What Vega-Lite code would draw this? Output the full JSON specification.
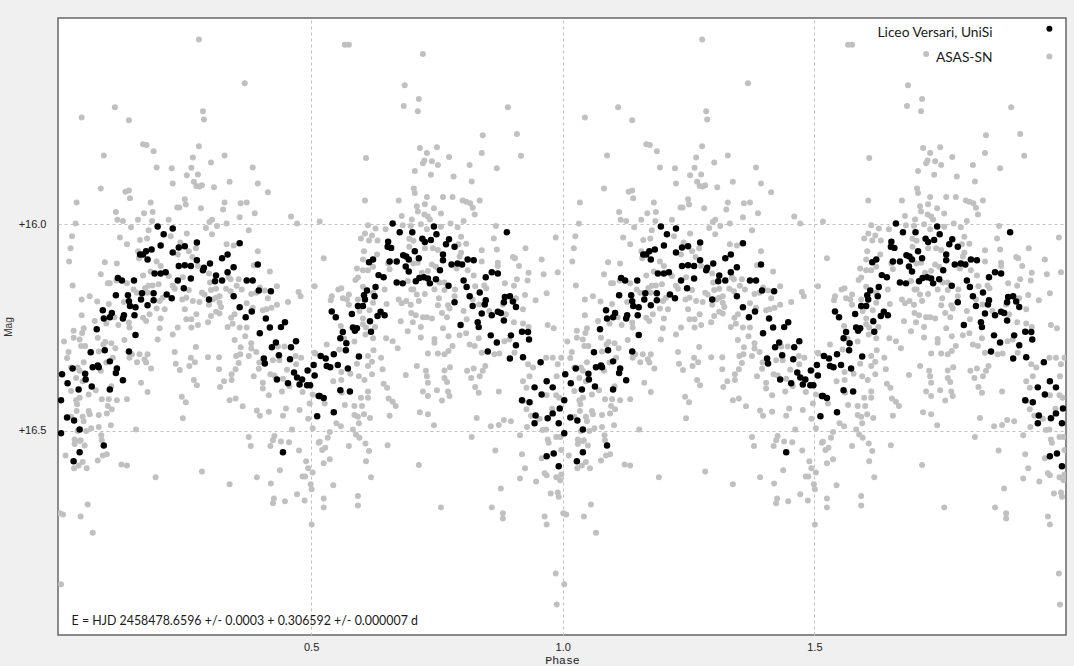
{"$schema":"https://vega.github.io/schema/vega-lite/v6.json","autosize":{"type":"none"},"width":1008,"height":617,"padding":{"left":58,"top":18,"right":8,"bottom":31},"background":"#f0f0f0","config":{"view":{"stroke":"#666666","strokeWidth":1.5,"fill":"#ffffff"}},"datasets":{"keys":[{"p":1.967,"m":15.526,"s":"Liceo Versari, UniSi"},{"p":1.967,"m":15.593,"s":"ASAS-SN"}],"noteL":[{"p":0.024,"m":16.962,"t":"E = HJD 2458478.6596 +/- 0.0003 + 0.306592 +/- 0.000007 d"}],"noteR":[{"p":1.854,"m":15.536,"t":"Liceo Versari, UniSi"},{"p":1.854,"m":15.596,"t":"ASAS-SN"}],
"g":[{"p":0.277,"m":15.552},{"p":0.368,"m":15.658},{"p":0.11,"m":15.716},{"p":0.044,"m":15.741},{"p":0.138,"m":15.748},{"p":0.285,"m":15.726},{"p":0.287,"m":15.746},{"p":0.166,"m":15.806},{"p":0.173,"m":15.808},{"p":0.187,"m":15.823},{"p":0.277,"m":15.811},{"p":0.088,"m":15.833},{"p":0.265,"m":15.838},{"p":0.328,"m":15.833},{"p":0.301,"m":15.85},{"p":0.193,"m":15.862},{"p":0.223,"m":15.864},{"p":0.262,"m":15.863},{"p":0.384,"m":15.862},{"p":0.253,"m":15.881},{"p":0.275,"m":15.879},{"p":0.225,"m":15.901},{"p":0.338,"m":15.897},{"p":0.394,"m":15.901},{"p":0.267,"m":15.897},{"p":0.272,"m":15.907},{"p":0.278,"m":15.908},{"p":0.283,"m":15.905},{"p":0.307,"m":15.91},{"p":0.082,"m":15.913},{"p":0.414,"m":15.922},{"p":0.131,"m":15.921},{"p":0.138,"m":15.918},{"p":0.14,"m":15.937},{"p":0.034,"m":15.947},{"p":0.181,"m":15.947},{"p":0.249,"m":15.939},{"p":0.251,"m":15.952},{"p":0.234,"m":15.959},{"p":0.238,"m":15.959},{"p":0.281,"m":15.961},{"p":0.328,"m":15.947},{"p":0.36,"m":15.949},{"p":0.372,"m":15.947},{"p":0.325,"m":15.964},{"p":0.112,"m":15.97},{"p":0.168,"m":15.973},{"p":0.185,"m":15.97},{"p":0.388,"m":15.973},{"p":0.358,"m":15.983},{"p":0.46,"m":15.981},{"p":0.472,"m":15.998},{"p":0.115,"m":15.989},{"p":0.126,"m":15.992},{"p":0.156,"m":15.989},{"p":0.032,"m":15.998},{"p":0.184,"m":15.992},{"p":0.217,"m":15.989},{"p":0.298,"m":15.994},{"p":0.303,"m":15.989},{"p":0.313,"m":16.004},{"p":0.332,"m":15.998},{"p":0.142,"m":16.007},{"p":0.177,"m":16.014},{"p":0.291,"m":16.009},{"p":0.376,"m":16.014},{"p":0.253,"m":16.022},{"p":0.303,"m":16.024},{"p":0.221,"m":16.029},{"p":0.025,"m":16.029},{"p":0.12,"m":16.032},{"p":0.174,"m":16.034},{"p":0.16,"m":16.038},{"p":0.134,"m":16.048},{"p":0.022,"m":16.058},{"p":0.24,"m":16.044},{"p":0.332,"m":16.048},{"p":0.346,"m":16.051},{"p":0.271,"m":16.058},{"p":0.257,"m":16.065},{"p":0.394,"m":16.065},{"p":0.156,"m":16.065},{"p":0.235,"m":16.073},{"p":0.019,"m":16.09},{"p":0.09,"m":16.092},{"p":0.114,"m":16.095},{"p":0.158,"m":16.082},{"p":0.193,"m":16.09},{"p":0.264,"m":16.079},{"p":0.201,"m":16.101},{"p":0.386,"m":16.099},{"p":0.418,"m":16.114},{"p":0.082,"m":16.121},{"p":0.166,"m":16.124},{"p":0.181,"m":16.114},{"p":0.217,"m":16.125},{"p":0.297,"m":16.119},{"p":0.275,"m":16.101},{"p":0.245,"m":16.128},{"p":0.096,"m":16.143},{"p":0.1,"m":16.143},{"p":0.113,"m":16.136},{"p":0.026,"m":16.148},{"p":0.134,"m":16.143},{"p":0.356,"m":16.133},{"p":0.34,"m":16.133},{"p":0.336,"m":16.128},{"p":0.299,"m":16.141},{"p":0.507,"m":16.15},{"p":0.432,"m":16.15},{"p":0.398,"m":16.153},{"p":0.408,"m":16.16},{"p":0.352,"m":16.149},{"p":0.331,"m":16.156},{"p":0.311,"m":16.156},{"p":0.301,"m":16.159},{"p":0.257,"m":16.159},{"p":0.225,"m":16.149},{"p":0.229,"m":16.156},{"p":0.197,"m":16.145},{"p":0.185,"m":16.148},{"p":0.177,"m":16.149},{"p":0.17,"m":16.154},{"p":0.147,"m":16.158},{"p":0.154,"m":16.166},{"p":0.475,"m":16.164},{"p":0.479,"m":16.174},{"p":0.381,"m":16.169},{"p":0.391,"m":16.166},{"p":0.34,"m":16.162},{"p":0.362,"m":16.158},{"p":0.283,"m":16.166},{"p":0.288,"m":16.17},{"p":0.044,"m":16.182},{"p":0.06,"m":16.174},{"p":0.075,"m":16.187},{"p":0.128,"m":16.188},{"p":0.205,"m":16.178},{"p":0.199,"m":16.186},{"p":0.175,"m":16.166},{"p":0.244,"m":16.182},{"p":0.252,"m":16.178},{"p":0.265,"m":16.186},{"p":0.278,"m":16.188},{"p":0.318,"m":16.174},{"p":0.311,"m":16.178},{"p":0.305,"m":16.182},{"p":0.414,"m":16.179},{"p":0.454,"m":16.188},{"p":0.372,"m":16.191},{"p":0.297,"m":16.195},{"p":0.318,"m":16.19},{"p":0.321,"m":16.2},{"p":0.098,"m":16.193},{"p":0.432,"m":16.195},{"p":0.421,"m":16.202},{"p":0.411,"m":16.206},{"p":0.404,"m":16.208},{"p":0.384,"m":16.202},{"p":0.209,"m":16.206},{"p":0.193,"m":16.204},{"p":0.249,"m":16.206},{"p":0.044,"m":16.22},{"p":0.109,"m":16.225},{"p":0.179,"m":16.218},{"p":0.166,"m":16.226},{"p":0.172,"m":16.234},{"p":0.201,"m":16.228},{"p":0.272,"m":16.218},{"p":0.262,"m":16.23},{"p":0.252,"m":16.23},{"p":0.311,"m":16.212},{"p":0.318,"m":16.216},{"p":0.348,"m":16.218},{"p":0.341,"m":16.226},{"p":0.301,"m":16.222},{"p":0.295,"m":16.237},{"p":0.07,"m":16.234},{"p":0.138,"m":16.238},{"p":0.117,"m":16.244},{"p":0.344,"m":16.241},{"p":0.334,"m":16.249},{"p":0.275,"m":16.244},{"p":0.048,"m":16.252},{"p":0.235,"m":16.25},{"p":0.093,"m":16.24},{"p":0.139,"m":16.25},{"p":0.199,"m":16.252},{"p":0.262,"m":16.25},{"p":0.358,"m":16.25},{"p":0.372,"m":16.25},{"p":0.009,"m":16.284},{"p":0.028,"m":16.258},{"p":0.028,"m":16.275},{"p":0.04,"m":16.279},{"p":0.045,"m":16.263},{"p":0.043,"m":16.295},{"p":0.051,"m":16.295},{"p":0.018,"m":16.309},{"p":0.015,"m":16.324},{"p":0.076,"m":16.275},{"p":0.078,"m":16.308},{"p":0.091,"m":16.285},{"p":0.103,"m":16.288},{"p":0.087,"m":16.291},{"p":0.111,"m":16.3},{"p":0.129,"m":16.28},{"p":0.106,"m":16.323},{"p":0.093,"m":16.335},{"p":0.048,"m":16.334},{"p":0.023,"m":16.347},{"p":0.036,"m":16.347},{"p":0.04,"m":16.355},{"p":0.082,"m":16.355},{"p":0.033,"m":16.372},{"p":0.046,"m":16.38},{"p":0.023,"m":16.404},{"p":0.072,"m":16.402},{"p":0.058,"m":16.412},{"p":0.04,"m":16.42},{"p":0.033,"m":16.426},{"p":0.035,"m":16.436},{"p":0.084,"m":16.424},{"p":0.098,"m":16.424},{"p":0.114,"m":16.426},{"p":0.134,"m":16.424},{"p":0.103,"m":16.392},{"p":0.096,"m":16.44},{"p":0.104,"m":16.448},{"p":0.094,"m":16.458},{"p":0.078,"m":16.462},{"p":0.058,"m":16.452},{"p":0.06,"m":16.46},{"p":0.046,"m":16.466},{"p":0.034,"m":16.452},{"p":0.048,"m":16.477},{"p":0.023,"m":16.466},{"p":0.102,"m":16.487},{"p":0.078,"m":16.491},{"p":0.063,"m":16.494},{"p":0.053,"m":16.501},{"p":0.036,"m":16.501},{"p":0.152,"m":16.497},{"p":0.083,"m":16.511},{"p":0.084,"m":16.523},{"p":0.03,"m":16.521},{"p":0.03,"m":16.532},{"p":0.04,"m":16.525},{"p":0.042,"m":16.523},{"p":0.05,"m":16.536},{"p":0.012,"m":16.56},{"p":0.086,"m":16.56},{"p":0.094,"m":16.557},{"p":0.076,"m":16.572},{"p":0.046,"m":16.576},{"p":0.038,"m":16.584},{"p":0.029,"m":16.591},{"p":0.054,"m":16.591},{"p":0.123,"m":16.582},{"p":0.134,"m":16.584},{"p":0.191,"m":16.613},{"p":0.283,"m":16.599},{"p":0.338,"m":16.63},{"p":0.056,"m":16.679},{"p":0.001,"m":16.7},{"p":0.007,"m":16.703},{"p":0.042,"m":16.708},{"p":0.066,"m":16.747},{"p":0.003,"m":16.872},{"p":0.159,"m":16.315},{"p":0.175,"m":16.315},{"p":0.169,"m":16.327},{"p":0.172,"m":16.335},{"p":0.154,"m":16.334},{"p":0.182,"m":16.349},{"p":0.139,"m":16.323},{"p":0.144,"m":16.315},{"p":0.195,"m":16.279},{"p":0.229,"m":16.309},{"p":0.225,"m":16.267},{"p":0.231,"m":16.338},{"p":0.239,"m":16.353},{"p":0.261,"m":16.323},{"p":0.269,"m":16.334},{"p":0.258,"m":16.343},{"p":0.271,"m":16.297},{"p":0.295,"m":16.322},{"p":0.317,"m":16.322},{"p":0.317,"m":16.351},{"p":0.267,"m":16.377},{"p":0.273,"m":16.39},{"p":0.162,"m":16.384},{"p":0.175,"m":16.406},{"p":0.243,"m":16.418},{"p":0.251,"m":16.431},{"p":0.245,"m":16.47},{"p":0.319,"m":16.394},{"p":0.327,"m":16.38},{"p":0.342,"m":16.363},{"p":0.342,"m":16.377},{"p":0.35,"m":16.351},{"p":0.356,"m":16.336},{"p":0.351,"m":16.319},{"p":0.359,"m":16.315},{"p":0.348,"m":16.28},{"p":0.36,"m":16.298},{"p":0.376,"m":16.319},{"p":0.381,"m":16.288},{"p":0.381,"m":16.301},{"p":0.391,"m":16.309},{"p":0.369,"m":16.271},{"p":0.397,"m":16.335},{"p":0.396,"m":16.35},{"p":0.386,"m":16.368},{"p":0.404,"m":16.384},{"p":0.404,"m":16.398},{"p":0.416,"m":16.414},{"p":0.419,"m":16.363},{"p":0.427,"m":16.366},{"p":0.444,"m":16.374},{"p":0.447,"m":16.296},{"p":0.434,"m":16.296},{"p":0.424,"m":16.329},{"p":0.437,"m":16.329},{"p":0.452,"m":16.352},{"p":0.469,"m":16.319},{"p":0.47,"m":16.339},{"p":0.48,"m":16.323},{"p":0.442,"m":16.405},{"p":0.457,"m":16.392},{"p":0.483,"m":16.406},{"p":0.503,"m":16.412},{"p":0.507,"m":16.311},{"p":0.338,"m":16.426},{"p":0.35,"m":16.422},{"p":0.364,"m":16.441},{"p":0.392,"m":16.451},{"p":0.398,"m":16.464},{"p":0.416,"m":16.454},{"p":0.45,"m":16.446},{"p":0.444,"m":16.464},{"p":0.477,"m":16.45},{"p":0.497,"m":16.434},{"p":0.494,"m":16.471},{"p":0.462,"m":16.497},{"p":0.503,"m":16.494},{"p":0.376,"m":16.515},{"p":0.38,"m":16.537},{"p":0.427,"m":16.513},{"p":0.424,"m":16.523},{"p":0.419,"m":16.537},{"p":0.44,"m":16.526},{"p":0.456,"m":16.528},{"p":0.476,"m":16.548},{"p":0.49,"m":16.574},{"p":0.494,"m":16.591},{"p":0.503,"m":16.601},{"p":0.483,"m":16.611},{"p":0.488,"m":16.611},{"p":0.438,"m":16.596},{"p":0.392,"m":16.613},{"p":0.42,"m":16.628},{"p":0.499,"m":16.63},{"p":0.501,"m":16.642},{"p":0.472,"m":16.654},{"p":0.487,"m":16.669},{"p":0.448,"m":16.671},{"p":0.426,"m":16.664},{"p":0.424,"m":16.676},{"p":0.501,"m":16.727},{"p":0.515,"m":16.529},{"p":0.567,"m":15.565},{"p":0.575,"m":15.565},{"p":0.722,"m":15.587},{"p":0.686,"m":15.663},{"p":0.714,"m":15.696},{"p":0.684,"m":15.713},{"p":0.712,"m":15.726},{"p":0.891,"m":15.716},{"p":0.841,"m":15.784},{"p":0.909,"m":15.781},{"p":0.716,"m":15.815},{"p":0.75,"m":15.813},{"p":0.73,"m":15.827},{"p":0.609,"m":15.839},{"p":0.774,"m":15.837},{"p":0.839,"m":15.827},{"p":0.917,"m":15.834},{"p":0.725,"m":15.845},{"p":0.722,"m":15.852},{"p":0.74,"m":15.847},{"p":0.752,"m":15.856},{"p":0.815,"m":15.856},{"p":0.869,"m":15.864},{"p":0.706,"m":15.871},{"p":0.738,"m":15.88},{"p":0.783,"m":15.884},{"p":0.819,"m":15.896},{"p":0.704,"m":15.913},{"p":0.706,"m":15.924},{"p":0.73,"m":15.934},{"p":0.762,"m":15.934},{"p":0.781,"m":15.934},{"p":0.607,"m":15.942},{"p":0.674,"m":15.942},{"p":0.801,"m":15.942},{"p":0.808,"m":15.945},{"p":0.816,"m":15.949},{"p":0.821,"m":15.96},{"p":0.825,"m":15.976},{"p":0.835,"m":15.942},{"p":0.726,"m":15.951},{"p":0.71,"m":15.956},{"p":0.744,"m":15.961},{"p":0.712,"m":15.969},{"p":0.725,"m":15.976},{"p":0.732,"m":15.981},{"p":0.736,"m":15.988},{"p":0.758,"m":15.974},{"p":0.68,"m":15.98},{"p":0.7,"m":15.988},{"p":0.517,"m":15.993},{"p":0.803,"m":15.992},{"p":0.777,"m":15.998},{"p":0.613,"m":16.002},{"p":0.682,"m":16.002},{"p":0.698,"m":16.004},{"p":0.718,"m":16.0},{"p":0.867,"m":16.004},{"p":0.791,"m":16.007},{"p":0.758,"m":16.006},{"p":0.628,"m":16.01},{"p":0.648,"m":16.012},{"p":0.73,"m":16.012},{"p":0.986,"m":16.032},{"p":0.607,"m":16.022},{"p":0.621,"m":16.027},{"p":0.599,"m":16.034},{"p":0.615,"m":16.039},{"p":0.632,"m":16.039},{"p":0.863,"m":16.034},{"p":0.798,"m":16.03},{"p":0.695,"m":16.035},{"p":0.703,"m":16.04},{"p":0.793,"m":16.048},{"p":0.808,"m":16.047},{"p":0.695,"m":16.054},{"p":0.726,"m":16.058},{"p":0.742,"m":16.058},{"p":0.752,"m":16.062},{"p":0.869,"m":16.061},{"p":0.926,"m":16.058},{"p":0.839,"m":16.063},{"p":0.605,"m":16.065},{"p":0.631,"m":16.073},{"p":0.798,"m":16.069},{"p":0.795,"m":16.078},{"p":0.603,"m":16.085},{"p":0.525,"m":16.082},{"p":0.901,"m":16.079},{"p":0.905,"m":16.082},{"p":0.958,"m":16.085},{"p":0.839,"m":16.09},{"p":0.871,"m":16.093},{"p":0.871,"m":16.101},{"p":0.653,"m":16.095},{"p":0.712,"m":16.093},{"p":0.703,"m":16.095},{"p":0.913,"m":16.101},{"p":0.623,"m":16.103},{"p":0.591,"m":16.107},{"p":0.603,"m":16.111},{"p":0.613,"m":16.111},{"p":0.656,"m":16.109},{"p":0.74,"m":16.097},{"p":0.748,"m":16.103},{"p":0.789,"m":16.107},{"p":0.811,"m":16.111},{"p":0.932,"m":16.117},{"p":0.962,"m":16.121},{"p":0.99,"m":16.116},{"p":0.732,"m":16.113},{"p":0.72,"m":16.117},{"p":0.823,"m":16.124},{"p":0.593,"m":16.129},{"p":0.588,"m":16.135},{"p":0.909,"m":16.133},{"p":0.93,"m":16.136},{"p":0.56,"m":16.155},{"p":0.554,"m":16.158},{"p":0.603,"m":16.151},{"p":0.646,"m":16.158},{"p":0.692,"m":16.137},{"p":0.699,"m":16.158},{"p":0.755,"m":16.141},{"p":0.765,"m":16.141},{"p":0.745,"m":16.158},{"p":0.765,"m":16.159},{"p":0.786,"m":16.158},{"p":0.826,"m":16.15},{"p":0.844,"m":16.148},{"p":0.848,"m":16.155},{"p":0.885,"m":16.143},{"p":0.903,"m":16.149},{"p":0.968,"m":16.167},{"p":0.541,"m":16.174},{"p":0.539,"m":16.184},{"p":0.575,"m":16.17},{"p":0.563,"m":16.179},{"p":0.571,"m":16.182},{"p":0.593,"m":16.182},{"p":0.623,"m":16.166},{"p":0.623,"m":16.19},{"p":0.703,"m":16.158},{"p":0.71,"m":16.17},{"p":0.714,"m":16.186},{"p":0.726,"m":16.169},{"p":0.785,"m":16.174},{"p":0.754,"m":16.179},{"p":0.821,"m":16.182},{"p":0.674,"m":16.182},{"p":0.68,"m":16.191},{"p":0.689,"m":16.186},{"p":0.925,"m":16.171},{"p":0.946,"m":16.184},{"p":0.907,"m":16.179},{"p":0.575,"m":16.195},{"p":0.65,"m":16.193},{"p":0.698,"m":16.195},{"p":0.752,"m":16.196},{"p":0.772,"m":16.196},{"p":0.775,"m":16.204},{"p":0.834,"m":16.194},{"p":0.881,"m":16.194},{"p":0.921,"m":16.206},{"p":0.616,"m":16.208},{"p":0.596,"m":16.21},{"p":0.803,"m":16.21},{"p":0.76,"m":16.215},{"p":0.854,"m":16.21},{"p":0.699,"m":16.215},{"p":0.708,"m":16.22},{"p":0.722,"m":16.225},{"p":0.73,"m":16.225},{"p":0.74,"m":16.228},{"p":0.77,"m":16.225},{"p":0.603,"m":16.228},{"p":0.887,"m":16.218},{"p":0.809,"m":16.23},{"p":0.678,"m":16.235},{"p":0.702,"m":16.237},{"p":0.903,"m":16.237},{"p":0.921,"m":16.24},{"p":0.932,"m":16.249},{"p":0.97,"m":16.244},{"p":0.982,"m":16.252},{"p":0.559,"m":16.246},{"p":0.603,"m":16.242},{"p":0.609,"m":16.25},{"p":0.627,"m":16.249},{"p":0.718,"m":16.249},{"p":0.762,"m":16.252},{"p":0.531,"m":16.291},{"p":0.508,"m":16.313},{"p":0.556,"m":16.303},{"p":0.566,"m":16.277},{"p":0.586,"m":16.284},{"p":0.623,"m":16.276},{"p":0.624,"m":16.305},{"p":0.608,"m":16.267},{"p":0.649,"m":16.276},{"p":0.662,"m":16.283},{"p":0.672,"m":16.3},{"p":0.692,"m":16.259},{"p":0.718,"m":16.274},{"p":0.745,"m":16.278},{"p":0.745,"m":16.287},{"p":0.732,"m":16.313},{"p":0.752,"m":16.313},{"p":0.765,"m":16.315},{"p":0.773,"m":16.307},{"p":0.781,"m":16.295},{"p":0.773,"m":16.271},{"p":0.795,"m":16.269},{"p":0.808,"m":16.264},{"p":0.815,"m":16.291},{"p":0.825,"m":16.295},{"p":0.833,"m":16.276},{"p":0.839,"m":16.311},{"p":0.864,"m":16.315},{"p":0.874,"m":16.313},{"p":0.884,"m":16.283},{"p":0.894,"m":16.279},{"p":0.904,"m":16.311},{"p":0.613,"m":16.319},{"p":0.639,"m":16.323},{"p":0.591,"m":16.338},{"p":0.613,"m":16.343},{"p":0.621,"m":16.333},{"p":0.642,"m":16.351},{"p":0.621,"m":16.363},{"p":0.578,"m":16.362},{"p":0.56,"m":16.358},{"p":0.595,"m":16.368},{"p":0.606,"m":16.377},{"p":0.544,"m":16.38},{"p":0.56,"m":16.377},{"p":0.688,"m":16.365},{"p":0.71,"m":16.343},{"p":0.728,"m":16.355},{"p":0.73,"m":16.368},{"p":0.732,"m":16.384},{"p":0.765,"m":16.354},{"p":0.776,"m":16.346},{"p":0.765,"m":16.372},{"p":0.77,"m":16.382},{"p":0.81,"m":16.355},{"p":0.823,"m":16.349},{"p":0.818,"m":16.372},{"p":0.835,"m":16.368},{"p":0.841,"m":16.355},{"p":0.846,"m":16.343},{"p":0.644,"m":16.386},{"p":0.651,"m":16.396},{"p":0.613,"m":16.405},{"p":0.613,"m":16.42},{"p":0.599,"m":16.42},{"p":0.561,"m":16.408},{"p":0.722,"m":16.405},{"p":0.75,"m":16.402},{"p":0.732,"m":16.416},{"p":0.772,"m":16.405},{"p":0.775,"m":16.416},{"p":0.76,"m":16.427},{"p":0.826,"m":16.394},{"p":0.833,"m":16.408},{"p":0.873,"m":16.405},{"p":0.654,"m":16.422},{"p":0.662,"m":16.43},{"p":0.668,"m":16.44},{"p":0.527,"m":16.434},{"p":0.567,"m":16.438},{"p":0.586,"m":16.44},{"p":0.601,"m":16.44},{"p":0.656,"m":16.464},{"p":0.586,"m":16.462},{"p":0.593,"m":16.466},{"p":0.605,"m":16.46},{"p":0.617,"m":16.469},{"p":0.55,"m":16.482},{"p":0.559,"m":16.489},{"p":0.595,"m":16.482},{"p":0.716,"m":16.455},{"p":0.732,"m":16.46},{"p":0.744,"m":16.487},{"p":0.829,"m":16.469},{"p":0.857,"m":16.489},{"p":0.873,"m":16.486},{"p":0.883,"m":16.474},{"p":0.897,"m":16.477},{"p":0.929,"m":16.491},{"p":0.583,"m":16.497},{"p":0.589,"m":16.509},{"p":0.596,"m":16.517},{"p":0.537,"m":16.503},{"p":0.533,"m":16.517},{"p":0.517,"m":16.527},{"p":0.528,"m":16.541},{"p":0.522,"m":16.547},{"p":0.575,"m":16.537},{"p":0.608,"m":16.531},{"p":0.615,"m":16.549},{"p":0.652,"m":16.535},{"p":0.819,"m":16.515},{"p":0.915,"m":16.511},{"p":0.96,"m":16.498},{"p":0.967,"m":16.497},{"p":0.97,"m":16.521},{"p":0.972,"m":16.529},{"p":0.987,"m":16.515},{"p":0.995,"m":16.515},{"p":0.997,"m":16.547},{"p":0.866,"m":16.548},{"p":0.919,"m":16.557},{"p":0.958,"m":16.567},{"p":0.525,"m":16.579},{"p":0.537,"m":16.569},{"p":0.609,"m":16.574},{"p":0.714,"m":16.583},{"p":0.925,"m":16.591},{"p":0.619,"m":16.613},{"p":0.915,"m":16.616},{"p":0.964,"m":16.603},{"p":0.968,"m":16.608},{"p":0.987,"m":16.613},{"p":0.997,"m":16.606},{"p":0.995,"m":16.62},{"p":0.947,"m":16.623},{"p":0.544,"m":16.632},{"p":0.877,"m":16.64},{"p":0.976,"m":16.652},{"p":0.99,"m":16.65},{"p":0.992,"m":16.66},{"p":0.593,"m":16.658},{"p":0.593,"m":16.681},{"p":0.525,"m":16.664},{"p":0.525,"m":16.686},{"p":0.758,"m":16.686},{"p":0.859,"m":16.686},{"p":0.881,"m":16.7},{"p":0.881,"m":16.713},{"p":0.964,"m":16.708},{"p":0.968,"m":16.727},{"p":0.986,"m":16.846},{"p":0.988,"m":16.921},{"p":0.921,"m":16.38},{"p":0.928,"m":16.396},{"p":0.941,"m":16.347},{"p":0.931,"m":16.339},{"p":0.934,"m":16.368},{"p":0.967,"m":16.323},{"p":0.98,"m":16.323},{"p":0.997,"m":16.323},{"p":0.99,"m":16.339},{"p":0.921,"m":16.428},{"p":0.928,"m":16.448},{"p":0.937,"m":16.464},{"p":0.954,"m":16.471},{"p":0.968,"m":16.414},{"p":0.987,"m":16.414},{"p":0.993,"m":16.42},{"p":0.988,"m":16.368},{"p":0.979,"m":16.447},
{"p":1.277,"m":15.552},{"p":1.368,"m":15.658},{"p":1.11,"m":15.716},{"p":1.044,"m":15.741},{"p":1.138,"m":15.748},{"p":1.285,"m":15.726},{"p":1.287,"m":15.746},{"p":1.166,"m":15.806},{"p":1.173,"m":15.808},{"p":1.187,"m":15.823},{"p":1.277,"m":15.811},{"p":1.088,"m":15.833},{"p":1.265,"m":15.838},{"p":1.328,"m":15.833},{"p":1.301,"m":15.85},{"p":1.193,"m":15.862},{"p":1.223,"m":15.864},{"p":1.262,"m":15.863},{"p":1.384,"m":15.862},{"p":1.253,"m":15.881},{"p":1.275,"m":15.879},{"p":1.225,"m":15.901},{"p":1.338,"m":15.897},{"p":1.394,"m":15.901},{"p":1.267,"m":15.897},{"p":1.272,"m":15.907},{"p":1.278,"m":15.908},{"p":1.283,"m":15.905},{"p":1.307,"m":15.91},{"p":1.082,"m":15.913},{"p":1.414,"m":15.922},{"p":1.131,"m":15.921},{"p":1.138,"m":15.918},{"p":1.14,"m":15.937},{"p":1.034,"m":15.947},{"p":1.181,"m":15.947},{"p":1.249,"m":15.939},{"p":1.251,"m":15.952},{"p":1.234,"m":15.959},{"p":1.238,"m":15.959},{"p":1.281,"m":15.961},{"p":1.328,"m":15.947},{"p":1.36,"m":15.949},{"p":1.372,"m":15.947},{"p":1.325,"m":15.964},{"p":1.112,"m":15.97},{"p":1.168,"m":15.973},{"p":1.185,"m":15.97},{"p":1.388,"m":15.973},{"p":1.358,"m":15.983},{"p":1.46,"m":15.981},{"p":1.472,"m":15.998},{"p":1.115,"m":15.989},{"p":1.126,"m":15.992},{"p":1.156,"m":15.989},{"p":1.032,"m":15.998},{"p":1.184,"m":15.992},{"p":1.217,"m":15.989},{"p":1.298,"m":15.994},{"p":1.303,"m":15.989},{"p":1.313,"m":16.004},{"p":1.332,"m":15.998},{"p":1.142,"m":16.007},{"p":1.177,"m":16.014},{"p":1.291,"m":16.009},{"p":1.376,"m":16.014},{"p":1.253,"m":16.022},{"p":1.303,"m":16.024},{"p":1.221,"m":16.029},{"p":1.025,"m":16.029},{"p":1.12,"m":16.032},{"p":1.174,"m":16.034},{"p":1.16,"m":16.038},{"p":1.134,"m":16.048},{"p":1.022,"m":16.058},{"p":1.24,"m":16.044},{"p":1.332,"m":16.048},{"p":1.346,"m":16.051},{"p":1.271,"m":16.058},{"p":1.257,"m":16.065},{"p":1.394,"m":16.065},{"p":1.156,"m":16.065},{"p":1.235,"m":16.073},{"p":1.019,"m":16.09},{"p":1.09,"m":16.092},{"p":1.114,"m":16.095},{"p":1.158,"m":16.082},{"p":1.193,"m":16.09},{"p":1.264,"m":16.079},{"p":1.201,"m":16.101},{"p":1.386,"m":16.099},{"p":1.418,"m":16.114},{"p":1.082,"m":16.121},{"p":1.166,"m":16.124},{"p":1.181,"m":16.114},{"p":1.217,"m":16.125},{"p":1.297,"m":16.119},{"p":1.275,"m":16.101},{"p":1.245,"m":16.128},{"p":1.096,"m":16.143},{"p":1.1,"m":16.143},{"p":1.113,"m":16.136},{"p":1.026,"m":16.148},{"p":1.134,"m":16.143},{"p":1.356,"m":16.133},{"p":1.34,"m":16.133},{"p":1.336,"m":16.128},{"p":1.299,"m":16.141},{"p":1.507,"m":16.15},{"p":1.432,"m":16.15},{"p":1.398,"m":16.153},{"p":1.408,"m":16.16},{"p":1.352,"m":16.149},{"p":1.331,"m":16.156},{"p":1.311,"m":16.156},{"p":1.301,"m":16.159},{"p":1.257,"m":16.159},{"p":1.225,"m":16.149},{"p":1.229,"m":16.156},{"p":1.197,"m":16.145},{"p":1.185,"m":16.148},{"p":1.177,"m":16.149},{"p":1.17,"m":16.154},{"p":1.147,"m":16.158},{"p":1.154,"m":16.166},{"p":1.475,"m":16.164},{"p":1.479,"m":16.174},{"p":1.381,"m":16.169},{"p":1.391,"m":16.166},{"p":1.34,"m":16.162},{"p":1.362,"m":16.158},{"p":1.283,"m":16.166},{"p":1.288,"m":16.17},{"p":1.044,"m":16.182},{"p":1.06,"m":16.174},{"p":1.075,"m":16.187},{"p":1.128,"m":16.188},{"p":1.205,"m":16.178},{"p":1.199,"m":16.186},{"p":1.175,"m":16.166},{"p":1.244,"m":16.182},{"p":1.252,"m":16.178},{"p":1.265,"m":16.186},{"p":1.278,"m":16.188},{"p":1.318,"m":16.174},{"p":1.311,"m":16.178},{"p":1.305,"m":16.182},{"p":1.414,"m":16.179},{"p":1.454,"m":16.188},{"p":1.372,"m":16.191},{"p":1.297,"m":16.195},{"p":1.318,"m":16.19},{"p":1.321,"m":16.2},{"p":1.098,"m":16.193},{"p":1.432,"m":16.195},{"p":1.421,"m":16.202},{"p":1.411,"m":16.206},{"p":1.404,"m":16.208},{"p":1.384,"m":16.202},{"p":1.209,"m":16.206},{"p":1.193,"m":16.204},{"p":1.249,"m":16.206},{"p":1.044,"m":16.22},{"p":1.109,"m":16.225},{"p":1.179,"m":16.218},{"p":1.166,"m":16.226},{"p":1.172,"m":16.234},{"p":1.201,"m":16.228},{"p":1.272,"m":16.218},{"p":1.262,"m":16.23},{"p":1.252,"m":16.23},{"p":1.311,"m":16.212},{"p":1.318,"m":16.216},{"p":1.348,"m":16.218},{"p":1.341,"m":16.226},{"p":1.301,"m":16.222},{"p":1.295,"m":16.237},{"p":1.07,"m":16.234},{"p":1.138,"m":16.238},{"p":1.117,"m":16.244},{"p":1.344,"m":16.241},{"p":1.334,"m":16.249},{"p":1.275,"m":16.244},{"p":1.048,"m":16.252},{"p":1.235,"m":16.25},{"p":1.093,"m":16.24},{"p":1.139,"m":16.25},{"p":1.199,"m":16.252},{"p":1.262,"m":16.25},{"p":1.358,"m":16.25},{"p":1.372,"m":16.25},{"p":1.009,"m":16.284},{"p":1.028,"m":16.258},{"p":1.028,"m":16.275},{"p":1.04,"m":16.279},{"p":1.045,"m":16.263},{"p":1.043,"m":16.295},{"p":1.051,"m":16.295},{"p":1.018,"m":16.309},{"p":1.015,"m":16.324},{"p":1.076,"m":16.275},{"p":1.078,"m":16.308},{"p":1.091,"m":16.285},{"p":1.103,"m":16.288},{"p":1.087,"m":16.291},{"p":1.111,"m":16.3},{"p":1.129,"m":16.28},{"p":1.106,"m":16.323},{"p":1.093,"m":16.335},{"p":1.048,"m":16.334},{"p":1.023,"m":16.347},{"p":1.036,"m":16.347},{"p":1.04,"m":16.355},{"p":1.082,"m":16.355},{"p":1.033,"m":16.372},{"p":1.046,"m":16.38},{"p":1.023,"m":16.404},{"p":1.072,"m":16.402},{"p":1.058,"m":16.412},{"p":1.04,"m":16.42},{"p":1.033,"m":16.426},{"p":1.035,"m":16.436},{"p":1.084,"m":16.424},{"p":1.098,"m":16.424},{"p":1.114,"m":16.426},{"p":1.134,"m":16.424},{"p":1.103,"m":16.392},{"p":1.096,"m":16.44},{"p":1.104,"m":16.448},{"p":1.094,"m":16.458},{"p":1.078,"m":16.462},{"p":1.058,"m":16.452},{"p":1.06,"m":16.46},{"p":1.046,"m":16.466},{"p":1.034,"m":16.452},{"p":1.048,"m":16.477},{"p":1.023,"m":16.466},{"p":1.102,"m":16.487},{"p":1.078,"m":16.491},{"p":1.063,"m":16.494},{"p":1.053,"m":16.501},{"p":1.036,"m":16.501},{"p":1.152,"m":16.497},{"p":1.083,"m":16.511},{"p":1.084,"m":16.523},{"p":1.03,"m":16.521},{"p":1.03,"m":16.532},{"p":1.04,"m":16.525},{"p":1.042,"m":16.523},{"p":1.05,"m":16.536},{"p":1.012,"m":16.56},{"p":1.086,"m":16.56},{"p":1.094,"m":16.557},{"p":1.076,"m":16.572},{"p":1.046,"m":16.576},{"p":1.038,"m":16.584},{"p":1.029,"m":16.591},{"p":1.054,"m":16.591},{"p":1.123,"m":16.582},{"p":1.134,"m":16.584},{"p":1.191,"m":16.613},{"p":1.283,"m":16.599},{"p":1.338,"m":16.63},{"p":1.056,"m":16.679},{"p":1.001,"m":16.7},{"p":1.007,"m":16.703},{"p":1.042,"m":16.708},{"p":1.066,"m":16.747},{"p":1.003,"m":16.872},{"p":1.159,"m":16.315},{"p":1.175,"m":16.315},{"p":1.169,"m":16.327},{"p":1.172,"m":16.335},{"p":1.154,"m":16.334},{"p":1.182,"m":16.349},{"p":1.139,"m":16.323},{"p":1.144,"m":16.315},{"p":1.195,"m":16.279},{"p":1.229,"m":16.309},{"p":1.225,"m":16.267},{"p":1.231,"m":16.338},{"p":1.239,"m":16.353},{"p":1.261,"m":16.323},{"p":1.269,"m":16.334},{"p":1.258,"m":16.343},{"p":1.271,"m":16.297},{"p":1.295,"m":16.322},{"p":1.317,"m":16.322},{"p":1.317,"m":16.351},{"p":1.267,"m":16.377},{"p":1.273,"m":16.39},{"p":1.162,"m":16.384},{"p":1.175,"m":16.406},{"p":1.243,"m":16.418},{"p":1.251,"m":16.431},{"p":1.245,"m":16.47},{"p":1.319,"m":16.394},{"p":1.327,"m":16.38},{"p":1.342,"m":16.363},{"p":1.342,"m":16.377},{"p":1.35,"m":16.351},{"p":1.356,"m":16.336},{"p":1.351,"m":16.319},{"p":1.359,"m":16.315},{"p":1.348,"m":16.28},{"p":1.36,"m":16.298},{"p":1.376,"m":16.319},{"p":1.381,"m":16.288},{"p":1.381,"m":16.301},{"p":1.391,"m":16.309},{"p":1.369,"m":16.271},{"p":1.397,"m":16.335},{"p":1.396,"m":16.35},{"p":1.386,"m":16.368},{"p":1.404,"m":16.384},{"p":1.404,"m":16.398},{"p":1.416,"m":16.414},{"p":1.419,"m":16.363},{"p":1.427,"m":16.366},{"p":1.444,"m":16.374},{"p":1.447,"m":16.296},{"p":1.434,"m":16.296},{"p":1.424,"m":16.329},{"p":1.437,"m":16.329},{"p":1.452,"m":16.352},{"p":1.469,"m":16.319},{"p":1.47,"m":16.339},{"p":1.48,"m":16.323},{"p":1.442,"m":16.405},{"p":1.457,"m":16.392},{"p":1.483,"m":16.406},{"p":1.503,"m":16.412},{"p":1.507,"m":16.311},{"p":1.338,"m":16.426},{"p":1.35,"m":16.422},{"p":1.364,"m":16.441},{"p":1.392,"m":16.451},{"p":1.398,"m":16.464},{"p":1.416,"m":16.454},{"p":1.45,"m":16.446},{"p":1.444,"m":16.464},{"p":1.477,"m":16.45},{"p":1.497,"m":16.434},{"p":1.494,"m":16.471},{"p":1.462,"m":16.497},{"p":1.503,"m":16.494},{"p":1.376,"m":16.515},{"p":1.38,"m":16.537},{"p":1.427,"m":16.513},{"p":1.424,"m":16.523},{"p":1.419,"m":16.537},{"p":1.44,"m":16.526},{"p":1.456,"m":16.528},{"p":1.476,"m":16.548},{"p":1.49,"m":16.574},{"p":1.494,"m":16.591},{"p":1.503,"m":16.601},{"p":1.483,"m":16.611},{"p":1.488,"m":16.611},{"p":1.438,"m":16.596},{"p":1.392,"m":16.613},{"p":1.42,"m":16.628},{"p":1.499,"m":16.63},{"p":1.501,"m":16.642},{"p":1.472,"m":16.654},{"p":1.487,"m":16.669},{"p":1.448,"m":16.671},{"p":1.426,"m":16.664},{"p":1.424,"m":16.676},{"p":1.501,"m":16.727},{"p":1.515,"m":16.529},{"p":1.567,"m":15.565},{"p":1.575,"m":15.565},{"p":1.722,"m":15.587},{"p":1.686,"m":15.663},{"p":1.714,"m":15.696},{"p":1.684,"m":15.713},{"p":1.712,"m":15.726},{"p":1.891,"m":15.716},{"p":1.841,"m":15.784},{"p":1.909,"m":15.781},{"p":1.716,"m":15.815},{"p":1.75,"m":15.813},{"p":1.73,"m":15.827},{"p":1.609,"m":15.839},{"p":1.774,"m":15.837},{"p":1.839,"m":15.827},{"p":1.917,"m":15.834},{"p":1.725,"m":15.845},{"p":1.722,"m":15.852},{"p":1.74,"m":15.847},{"p":1.752,"m":15.856},{"p":1.815,"m":15.856},{"p":1.869,"m":15.864},{"p":1.706,"m":15.871},{"p":1.738,"m":15.88},{"p":1.783,"m":15.884},{"p":1.819,"m":15.896},{"p":1.704,"m":15.913},{"p":1.706,"m":15.924},{"p":1.73,"m":15.934},{"p":1.762,"m":15.934},{"p":1.781,"m":15.934},{"p":1.607,"m":15.942},{"p":1.674,"m":15.942},{"p":1.801,"m":15.942},{"p":1.808,"m":15.945},{"p":1.816,"m":15.949},{"p":1.821,"m":15.96},{"p":1.825,"m":15.976},{"p":1.835,"m":15.942},{"p":1.726,"m":15.951},{"p":1.71,"m":15.956},{"p":1.744,"m":15.961},{"p":1.712,"m":15.969},{"p":1.725,"m":15.976},{"p":1.732,"m":15.981},{"p":1.736,"m":15.988},{"p":1.758,"m":15.974},{"p":1.68,"m":15.98},{"p":1.7,"m":15.988},{"p":1.517,"m":15.993},{"p":1.803,"m":15.992},{"p":1.777,"m":15.998},{"p":1.613,"m":16.002},{"p":1.682,"m":16.002},{"p":1.698,"m":16.004},{"p":1.718,"m":16.0},{"p":1.867,"m":16.004},{"p":1.791,"m":16.007},{"p":1.758,"m":16.006},{"p":1.628,"m":16.01},{"p":1.648,"m":16.012},{"p":1.73,"m":16.012},{"p":1.986,"m":16.032},{"p":1.607,"m":16.022},{"p":1.621,"m":16.027},{"p":1.599,"m":16.034},{"p":1.615,"m":16.039},{"p":1.632,"m":16.039},{"p":1.863,"m":16.034},{"p":1.798,"m":16.03},{"p":1.695,"m":16.035},{"p":1.703,"m":16.04},{"p":1.793,"m":16.048},{"p":1.808,"m":16.047},{"p":1.695,"m":16.054},{"p":1.726,"m":16.058},{"p":1.742,"m":16.058},{"p":1.752,"m":16.062},{"p":1.869,"m":16.061},{"p":1.926,"m":16.058},{"p":1.839,"m":16.063},{"p":1.605,"m":16.065},{"p":1.631,"m":16.073},{"p":1.798,"m":16.069},{"p":1.795,"m":16.078},{"p":1.603,"m":16.085},{"p":1.525,"m":16.082},{"p":1.901,"m":16.079},{"p":1.905,"m":16.082},{"p":1.958,"m":16.085},{"p":1.839,"m":16.09},{"p":1.871,"m":16.093},{"p":1.871,"m":16.101},{"p":1.653,"m":16.095},{"p":1.712,"m":16.093},{"p":1.703,"m":16.095},{"p":1.913,"m":16.101},{"p":1.623,"m":16.103},{"p":1.591,"m":16.107},{"p":1.603,"m":16.111},{"p":1.613,"m":16.111},{"p":1.656,"m":16.109},{"p":1.74,"m":16.097},{"p":1.748,"m":16.103},{"p":1.789,"m":16.107},{"p":1.811,"m":16.111},{"p":1.932,"m":16.117},{"p":1.962,"m":16.121},{"p":1.99,"m":16.116},{"p":1.732,"m":16.113},{"p":1.72,"m":16.117},{"p":1.823,"m":16.124},{"p":1.593,"m":16.129},{"p":1.588,"m":16.135},{"p":1.909,"m":16.133},{"p":1.93,"m":16.136},{"p":1.56,"m":16.155},{"p":1.554,"m":16.158},{"p":1.603,"m":16.151},{"p":1.646,"m":16.158},{"p":1.692,"m":16.137},{"p":1.699,"m":16.158},{"p":1.755,"m":16.141},{"p":1.765,"m":16.141},{"p":1.745,"m":16.158},{"p":1.765,"m":16.159},{"p":1.786,"m":16.158},{"p":1.826,"m":16.15},{"p":1.844,"m":16.148},{"p":1.848,"m":16.155},{"p":1.885,"m":16.143},{"p":1.903,"m":16.149},{"p":1.968,"m":16.167},{"p":1.541,"m":16.174},{"p":1.539,"m":16.184},{"p":1.575,"m":16.17},{"p":1.563,"m":16.179},{"p":1.571,"m":16.182},{"p":1.593,"m":16.182},{"p":1.623,"m":16.166},{"p":1.623,"m":16.19},{"p":1.703,"m":16.158},{"p":1.71,"m":16.17},{"p":1.714,"m":16.186},{"p":1.726,"m":16.169},{"p":1.785,"m":16.174},{"p":1.754,"m":16.179},{"p":1.821,"m":16.182},{"p":1.674,"m":16.182},{"p":1.68,"m":16.191},{"p":1.689,"m":16.186},{"p":1.925,"m":16.171},{"p":1.946,"m":16.184},{"p":1.907,"m":16.179},{"p":1.575,"m":16.195},{"p":1.65,"m":16.193},{"p":1.698,"m":16.195},{"p":1.752,"m":16.196},{"p":1.772,"m":16.196},{"p":1.775,"m":16.204},{"p":1.834,"m":16.194},{"p":1.881,"m":16.194},{"p":1.921,"m":16.206},{"p":1.616,"m":16.208},{"p":1.596,"m":16.21},{"p":1.803,"m":16.21},{"p":1.76,"m":16.215},{"p":1.854,"m":16.21},{"p":1.699,"m":16.215},{"p":1.708,"m":16.22},{"p":1.722,"m":16.225},{"p":1.73,"m":16.225},{"p":1.74,"m":16.228},{"p":1.77,"m":16.225},{"p":1.603,"m":16.228},{"p":1.887,"m":16.218},{"p":1.809,"m":16.23},{"p":1.678,"m":16.235},{"p":1.702,"m":16.237},{"p":1.903,"m":16.237},{"p":1.921,"m":16.24},{"p":1.932,"m":16.249},{"p":1.97,"m":16.244},{"p":1.982,"m":16.252},{"p":1.559,"m":16.246},{"p":1.603,"m":16.242},{"p":1.609,"m":16.25},{"p":1.627,"m":16.249},{"p":1.718,"m":16.249},{"p":1.762,"m":16.252},{"p":1.531,"m":16.291},{"p":1.508,"m":16.313},{"p":1.556,"m":16.303},{"p":1.566,"m":16.277},{"p":1.586,"m":16.284},{"p":1.623,"m":16.276},{"p":1.624,"m":16.305},{"p":1.608,"m":16.267},{"p":1.649,"m":16.276},{"p":1.662,"m":16.283},{"p":1.672,"m":16.3},{"p":1.692,"m":16.259},{"p":1.718,"m":16.274},{"p":1.745,"m":16.278},{"p":1.745,"m":16.287},{"p":1.732,"m":16.313},{"p":1.752,"m":16.313},{"p":1.765,"m":16.315},{"p":1.773,"m":16.307},{"p":1.781,"m":16.295},{"p":1.773,"m":16.271},{"p":1.795,"m":16.269},{"p":1.808,"m":16.264},{"p":1.815,"m":16.291},{"p":1.825,"m":16.295},{"p":1.833,"m":16.276},{"p":1.839,"m":16.311},{"p":1.864,"m":16.315},{"p":1.874,"m":16.313},{"p":1.884,"m":16.283},{"p":1.894,"m":16.279},{"p":1.904,"m":16.311},{"p":1.613,"m":16.319},{"p":1.639,"m":16.323},{"p":1.591,"m":16.338},{"p":1.613,"m":16.343},{"p":1.621,"m":16.333},{"p":1.642,"m":16.351},{"p":1.621,"m":16.363},{"p":1.578,"m":16.362},{"p":1.56,"m":16.358},{"p":1.595,"m":16.368},{"p":1.606,"m":16.377},{"p":1.544,"m":16.38},{"p":1.56,"m":16.377},{"p":1.688,"m":16.365},{"p":1.71,"m":16.343},{"p":1.728,"m":16.355},{"p":1.73,"m":16.368},{"p":1.732,"m":16.384},{"p":1.765,"m":16.354},{"p":1.776,"m":16.346},{"p":1.765,"m":16.372},{"p":1.77,"m":16.382},{"p":1.81,"m":16.355},{"p":1.823,"m":16.349},{"p":1.818,"m":16.372},{"p":1.835,"m":16.368},{"p":1.841,"m":16.355},{"p":1.846,"m":16.343},{"p":1.644,"m":16.386},{"p":1.651,"m":16.396},{"p":1.613,"m":16.405},{"p":1.613,"m":16.42},{"p":1.599,"m":16.42},{"p":1.561,"m":16.408},{"p":1.722,"m":16.405},{"p":1.75,"m":16.402},{"p":1.732,"m":16.416},{"p":1.772,"m":16.405},{"p":1.775,"m":16.416},{"p":1.76,"m":16.427},{"p":1.826,"m":16.394},{"p":1.833,"m":16.408},{"p":1.873,"m":16.405},{"p":1.654,"m":16.422},{"p":1.662,"m":16.43},{"p":1.668,"m":16.44},{"p":1.527,"m":16.434},{"p":1.567,"m":16.438},{"p":1.586,"m":16.44},{"p":1.601,"m":16.44},{"p":1.656,"m":16.464},{"p":1.586,"m":16.462},{"p":1.593,"m":16.466},{"p":1.605,"m":16.46},{"p":1.617,"m":16.469},{"p":1.55,"m":16.482},{"p":1.559,"m":16.489},{"p":1.595,"m":16.482},{"p":1.716,"m":16.455},{"p":1.732,"m":16.46},{"p":1.744,"m":16.487},{"p":1.829,"m":16.469},{"p":1.857,"m":16.489},{"p":1.873,"m":16.486},{"p":1.883,"m":16.474},{"p":1.897,"m":16.477},{"p":1.929,"m":16.491},{"p":1.583,"m":16.497},{"p":1.589,"m":16.509},{"p":1.596,"m":16.517},{"p":1.537,"m":16.503},{"p":1.533,"m":16.517},{"p":1.517,"m":16.527},{"p":1.528,"m":16.541},{"p":1.522,"m":16.547},{"p":1.575,"m":16.537},{"p":1.608,"m":16.531},{"p":1.615,"m":16.549},{"p":1.652,"m":16.535},{"p":1.819,"m":16.515},{"p":1.915,"m":16.511},{"p":1.96,"m":16.498},{"p":1.967,"m":16.497},{"p":1.97,"m":16.521},{"p":1.972,"m":16.529},{"p":1.987,"m":16.515},{"p":1.995,"m":16.515},{"p":1.997,"m":16.547},{"p":1.866,"m":16.548},{"p":1.919,"m":16.557},{"p":1.958,"m":16.567},{"p":1.525,"m":16.579},{"p":1.537,"m":16.569},{"p":1.609,"m":16.574},{"p":1.714,"m":16.583},{"p":1.925,"m":16.591},{"p":1.619,"m":16.613},{"p":1.915,"m":16.616},{"p":1.964,"m":16.603},{"p":1.968,"m":16.608},{"p":1.987,"m":16.613},{"p":1.997,"m":16.606},{"p":1.995,"m":16.62},{"p":1.947,"m":16.623},{"p":1.544,"m":16.632},{"p":1.877,"m":16.64},{"p":1.976,"m":16.652},{"p":1.99,"m":16.65},{"p":1.992,"m":16.66},{"p":1.593,"m":16.658},{"p":1.593,"m":16.681},{"p":1.525,"m":16.664},{"p":1.525,"m":16.686},{"p":1.758,"m":16.686},{"p":1.859,"m":16.686},{"p":1.881,"m":16.7},{"p":1.881,"m":16.713},{"p":1.964,"m":16.708},{"p":1.968,"m":16.727},{"p":1.986,"m":16.846},{"p":1.988,"m":16.921},{"p":1.921,"m":16.38},{"p":1.928,"m":16.396},{"p":1.941,"m":16.347},{"p":1.931,"m":16.339},{"p":1.934,"m":16.368},{"p":1.967,"m":16.323},{"p":1.98,"m":16.323},{"p":1.997,"m":16.323},{"p":1.99,"m":16.339},{"p":1.921,"m":16.428},{"p":1.928,"m":16.448},{"p":1.937,"m":16.464},{"p":1.954,"m":16.471},{"p":1.968,"m":16.414},{"p":1.987,"m":16.414},{"p":1.993,"m":16.42},{"p":1.988,"m":16.368},{"p":1.979,"m":16.447}],
"k":[{"p":0.195,"m":16.005},{"p":0.207,"m":16.024},{"p":0.225,"m":16.01},{"p":0.273,"m":16.044},{"p":0.358,"m":16.046},{"p":0.201,"m":16.051},{"p":0.183,"m":16.061},{"p":0.172,"m":16.065},{"p":0.16,"m":16.073},{"p":0.166,"m":16.073},{"p":0.175,"m":16.085},{"p":0.237,"m":16.056},{"p":0.249,"m":16.053},{"p":0.225,"m":16.068},{"p":0.334,"m":16.073},{"p":0.323,"m":16.082},{"p":0.273,"m":16.087},{"p":0.299,"m":16.095},{"p":0.394,"m":16.097},{"p":0.237,"m":16.101},{"p":0.249,"m":16.099},{"p":0.261,"m":16.101},{"p":0.346,"m":16.104},{"p":0.287,"m":16.105},{"p":0.285,"m":16.111},{"p":0.334,"m":16.116},{"p":0.189,"m":16.119},{"p":0.201,"m":16.119},{"p":0.211,"m":16.116},{"p":0.311,"m":16.124},{"p":0.116,"m":16.13},{"p":0.124,"m":16.136},{"p":0.148,"m":16.136},{"p":0.235,"m":16.136},{"p":0.261,"m":16.131},{"p":0.309,"m":16.138},{"p":0.323,"m":16.136},{"p":0.372,"m":16.136},{"p":0.384,"m":16.136},{"p":0.247,"m":16.155},{"p":0.396,"m":16.16},{"p":0.42,"m":16.162},{"p":0.112,"m":16.172},{"p":0.136,"m":16.172},{"p":0.164,"m":16.167},{"p":0.187,"m":16.167},{"p":0.213,"m":16.17},{"p":0.223,"m":16.179},{"p":0.346,"m":16.174},{"p":0.162,"m":16.182},{"p":0.187,"m":16.184},{"p":0.297,"m":16.182},{"p":0.138,"m":16.186},{"p":0.14,"m":16.198},{"p":0.175,"m":16.196},{"p":0.151,"m":16.201},{"p":0.358,"m":16.201},{"p":0.382,"m":16.211},{"p":0.086,"m":16.208},{"p":0.104,"m":16.215},{"p":0.1,"m":16.225},{"p":0.088,"m":16.228},{"p":0.128,"m":16.22},{"p":0.126,"m":16.228},{"p":0.149,"m":16.22},{"p":0.37,"m":16.225},{"p":0.41,"m":16.228},{"p":0.448,"m":16.237},{"p":0.44,"m":16.249},{"p":0.418,"m":16.25},{"p":0.074,"m":16.254},{"p":0.151,"m":16.268},{"p":0.398,"m":16.264},{"p":0.43,"m":16.286},{"p":0.422,"m":16.298},{"p":0.47,"m":16.283},{"p":0.46,"m":16.298},{"p":0.062,"m":16.31},{"p":0.09,"m":16.305},{"p":0.138,"m":16.308},{"p":0.436,"m":16.317},{"p":0.406,"m":16.325},{"p":0.408,"m":16.337},{"p":0.458,"m":16.327},{"p":0.1,"m":16.332},{"p":0.076,"m":16.342},{"p":0.066,"m":16.346},{"p":0.078,"m":16.346},{"p":0.026,"m":16.349},{"p":0.114,"m":16.349},{"p":0.112,"m":16.36},{"p":0.005,"m":16.363},{"p":0.051,"m":16.362},{"p":0.052,"m":16.376},{"p":0.505,"m":16.341},{"p":0.493,"m":16.354},{"p":0.507,"m":16.366},{"p":0.466,"m":16.359},{"p":0.472,"m":16.371},{"p":0.126,"m":16.378},{"p":0.482,"m":16.376},{"p":0.477,"m":16.388},{"p":0.432,"m":16.376},{"p":0.454,"m":16.385},{"p":0.492,"m":16.39},{"p":0.498,"m":16.39},{"p":0.016,"m":16.385},{"p":0.064,"m":16.393},{"p":0.038,"m":16.4},{"p":0.1,"m":16.4},{"p":0.003,"m":16.426},{"p":0.515,"m":16.416},{"p":0.512,"m":16.465},{"p":0.015,"m":16.468},{"p":0.029,"m":16.475},{"p":0.04,"m":16.497},{"p":0.003,"m":16.506},{"p":0.088,"m":16.536},{"p":0.04,"m":16.552},{"p":0.028,"m":16.574},{"p":0.444,"m":16.552},{"p":0.662,"m":15.998},{"p":0.744,"m":16.005},{"p":0.676,"m":16.019},{"p":0.701,"m":16.019},{"p":0.889,"m":16.019},{"p":0.721,"m":16.035},{"p":0.726,"m":16.043},{"p":0.738,"m":16.038},{"p":0.774,"m":16.036},{"p":0.768,"m":16.048},{"p":0.749,"m":16.024},{"p":0.653,"m":16.042},{"p":0.652,"m":16.054},{"p":0.659,"m":16.057},{"p":0.785,"m":16.054},{"p":0.706,"m":16.065},{"p":0.762,"m":16.073},{"p":0.762,"m":16.087},{"p":0.683,"m":16.075},{"p":0.689,"m":16.078},{"p":0.694,"m":16.085},{"p":0.714,"m":16.082},{"p":0.623,"m":16.085},{"p":0.615,"m":16.092},{"p":0.656,"m":16.09},{"p":0.67,"m":16.09},{"p":0.811,"m":16.085},{"p":0.823,"m":16.087},{"p":0.779,"m":16.097},{"p":0.791,"m":16.095},{"p":0.8,"m":16.097},{"p":0.688,"m":16.102},{"p":0.694,"m":16.114},{"p":0.756,"m":16.111},{"p":0.859,"m":16.116},{"p":0.871,"m":16.119},{"p":0.634,"m":16.123},{"p":0.644,"m":16.128},{"p":0.847,"m":16.128},{"p":0.715,"m":16.13},{"p":0.708,"m":16.138},{"p":0.724,"m":16.128},{"p":0.732,"m":16.131},{"p":0.736,"m":16.143},{"p":0.748,"m":16.133},{"p":0.67,"m":16.141},{"p":0.682,"m":16.143},{"p":0.803,"m":16.136},{"p":0.628,"m":16.152},{"p":0.611,"m":16.16},{"p":0.773,"m":16.149},{"p":0.809,"m":16.152},{"p":0.835,"m":16.165},{"p":0.605,"m":16.172},{"p":0.607,"m":16.182},{"p":0.626,"m":16.174},{"p":0.815,"m":16.174},{"p":0.885,"m":16.176},{"p":0.895,"m":16.174},{"p":0.785,"m":16.189},{"p":0.847,"m":16.184},{"p":0.845,"m":16.194},{"p":0.883,"m":16.189},{"p":0.901,"m":16.187},{"p":0.593,"m":16.198},{"p":0.603,"m":16.198},{"p":0.821,"m":16.198},{"p":0.907,"m":16.2},{"p":0.541,"m":16.211},{"p":0.549,"m":16.225},{"p":0.581,"m":16.217},{"p":0.638,"m":16.212},{"p":0.632,"m":16.222},{"p":0.646,"m":16.22},{"p":0.839,"m":16.216},{"p":0.871,"m":16.212},{"p":0.877,"m":16.215},{"p":0.859,"m":16.22},{"p":0.617,"m":16.235},{"p":0.883,"m":16.233},{"p":0.797,"m":16.244},{"p":0.831,"m":16.237},{"p":0.833,"m":16.249},{"p":0.583,"m":16.25},{"p":0.591,"m":16.252},{"p":0.563,"m":16.261},{"p":0.558,"m":16.276},{"p":0.57,"m":16.288},{"p":0.569,"m":16.305},{"p":0.587,"m":16.258},{"p":0.619,"m":16.26},{"p":0.519,"m":16.319},{"p":0.529,"m":16.325},{"p":0.545,"m":16.315},{"p":0.531,"m":16.343},{"p":0.538,"m":16.346},{"p":0.553,"m":16.341},{"p":0.595,"m":16.32},{"p":0.573,"m":16.349},{"p":0.558,"m":16.402},{"p":0.577,"m":16.405},{"p":0.517,"m":16.416},{"p":0.525,"m":16.421},{"p":0.545,"m":16.455},{"p":0.857,"m":16.269},{"p":0.869,"m":16.286},{"p":0.851,"m":16.308},{"p":0.897,"m":16.269},{"p":0.919,"m":16.26},{"p":0.931,"m":16.261},{"p":0.933,"m":16.279},{"p":0.907,"m":16.293},{"p":0.895,"m":16.325},{"p":0.921,"m":16.322},{"p":0.956,"m":16.334},{"p":0.968,"m":16.38},{"p":0.944,"m":16.395},{"p":0.98,"m":16.395},{"p":0.958,"m":16.412},{"p":0.919,"m":16.426},{"p":0.934,"m":16.431},{"p":0.994,"m":16.446},{"p":0.98,"m":16.458},{"p":0.97,"m":16.47},{"p":0.946,"m":16.463},{"p":0.944,"m":16.482},{"p":0.992,"m":16.482},{"p":0.968,"m":16.562},{"p":0.982,"m":16.555},{"p":0.992,"m":16.586},
{"p":1.195,"m":16.005},{"p":1.207,"m":16.024},{"p":1.225,"m":16.01},{"p":1.273,"m":16.044},{"p":1.358,"m":16.046},{"p":1.201,"m":16.051},{"p":1.183,"m":16.061},{"p":1.172,"m":16.065},{"p":1.16,"m":16.073},{"p":1.166,"m":16.073},{"p":1.175,"m":16.085},{"p":1.237,"m":16.056},{"p":1.249,"m":16.053},{"p":1.225,"m":16.068},{"p":1.334,"m":16.073},{"p":1.323,"m":16.082},{"p":1.273,"m":16.087},{"p":1.299,"m":16.095},{"p":1.394,"m":16.097},{"p":1.237,"m":16.101},{"p":1.249,"m":16.099},{"p":1.261,"m":16.101},{"p":1.346,"m":16.104},{"p":1.287,"m":16.105},{"p":1.285,"m":16.111},{"p":1.334,"m":16.116},{"p":1.189,"m":16.119},{"p":1.201,"m":16.119},{"p":1.211,"m":16.116},{"p":1.311,"m":16.124},{"p":1.116,"m":16.13},{"p":1.124,"m":16.136},{"p":1.148,"m":16.136},{"p":1.235,"m":16.136},{"p":1.261,"m":16.131},{"p":1.309,"m":16.138},{"p":1.323,"m":16.136},{"p":1.372,"m":16.136},{"p":1.384,"m":16.136},{"p":1.247,"m":16.155},{"p":1.396,"m":16.16},{"p":1.42,"m":16.162},{"p":1.112,"m":16.172},{"p":1.136,"m":16.172},{"p":1.164,"m":16.167},{"p":1.187,"m":16.167},{"p":1.213,"m":16.17},{"p":1.223,"m":16.179},{"p":1.346,"m":16.174},{"p":1.162,"m":16.182},{"p":1.187,"m":16.184},{"p":1.297,"m":16.182},{"p":1.138,"m":16.186},{"p":1.14,"m":16.198},{"p":1.175,"m":16.196},{"p":1.151,"m":16.201},{"p":1.358,"m":16.201},{"p":1.382,"m":16.211},{"p":1.086,"m":16.208},{"p":1.104,"m":16.215},{"p":1.1,"m":16.225},{"p":1.088,"m":16.228},{"p":1.128,"m":16.22},{"p":1.126,"m":16.228},{"p":1.149,"m":16.22},{"p":1.37,"m":16.225},{"p":1.41,"m":16.228},{"p":1.448,"m":16.237},{"p":1.44,"m":16.249},{"p":1.418,"m":16.25},{"p":1.074,"m":16.254},{"p":1.151,"m":16.268},{"p":1.398,"m":16.264},{"p":1.43,"m":16.286},{"p":1.422,"m":16.298},{"p":1.47,"m":16.283},{"p":1.46,"m":16.298},{"p":1.062,"m":16.31},{"p":1.09,"m":16.305},{"p":1.138,"m":16.308},{"p":1.436,"m":16.317},{"p":1.406,"m":16.325},{"p":1.408,"m":16.337},{"p":1.458,"m":16.327},{"p":1.1,"m":16.332},{"p":1.076,"m":16.342},{"p":1.066,"m":16.346},{"p":1.078,"m":16.346},{"p":1.026,"m":16.349},{"p":1.114,"m":16.349},{"p":1.112,"m":16.36},{"p":1.005,"m":16.363},{"p":1.051,"m":16.362},{"p":1.052,"m":16.376},{"p":1.505,"m":16.341},{"p":1.493,"m":16.354},{"p":1.507,"m":16.366},{"p":1.466,"m":16.359},{"p":1.472,"m":16.371},{"p":1.126,"m":16.378},{"p":1.482,"m":16.376},{"p":1.477,"m":16.388},{"p":1.432,"m":16.376},{"p":1.454,"m":16.385},{"p":1.492,"m":16.39},{"p":1.498,"m":16.39},{"p":1.016,"m":16.385},{"p":1.064,"m":16.393},{"p":1.038,"m":16.4},{"p":1.1,"m":16.4},{"p":1.003,"m":16.426},{"p":1.515,"m":16.416},{"p":1.512,"m":16.465},{"p":1.015,"m":16.468},{"p":1.029,"m":16.475},{"p":1.04,"m":16.497},{"p":1.003,"m":16.506},{"p":1.088,"m":16.536},{"p":1.04,"m":16.552},{"p":1.028,"m":16.574},{"p":1.444,"m":16.552},{"p":1.662,"m":15.998},{"p":1.744,"m":16.005},{"p":1.676,"m":16.019},{"p":1.701,"m":16.019},{"p":1.889,"m":16.019},{"p":1.721,"m":16.035},{"p":1.726,"m":16.043},{"p":1.738,"m":16.038},{"p":1.774,"m":16.036},{"p":1.768,"m":16.048},{"p":1.749,"m":16.024},{"p":1.653,"m":16.042},{"p":1.652,"m":16.054},{"p":1.659,"m":16.057},{"p":1.785,"m":16.054},{"p":1.706,"m":16.065},{"p":1.762,"m":16.073},{"p":1.762,"m":16.087},{"p":1.683,"m":16.075},{"p":1.689,"m":16.078},{"p":1.694,"m":16.085},{"p":1.714,"m":16.082},{"p":1.623,"m":16.085},{"p":1.615,"m":16.092},{"p":1.656,"m":16.09},{"p":1.67,"m":16.09},{"p":1.811,"m":16.085},{"p":1.823,"m":16.087},{"p":1.779,"m":16.097},{"p":1.791,"m":16.095},{"p":1.8,"m":16.097},{"p":1.688,"m":16.102},{"p":1.694,"m":16.114},{"p":1.756,"m":16.111},{"p":1.859,"m":16.116},{"p":1.871,"m":16.119},{"p":1.634,"m":16.123},{"p":1.644,"m":16.128},{"p":1.847,"m":16.128},{"p":1.715,"m":16.13},{"p":1.708,"m":16.138},{"p":1.724,"m":16.128},{"p":1.732,"m":16.131},{"p":1.736,"m":16.143},{"p":1.748,"m":16.133},{"p":1.67,"m":16.141},{"p":1.682,"m":16.143},{"p":1.803,"m":16.136},{"p":1.628,"m":16.152},{"p":1.611,"m":16.16},{"p":1.773,"m":16.149},{"p":1.809,"m":16.152},{"p":1.835,"m":16.165},{"p":1.605,"m":16.172},{"p":1.607,"m":16.182},{"p":1.626,"m":16.174},{"p":1.815,"m":16.174},{"p":1.885,"m":16.176},{"p":1.895,"m":16.174},{"p":1.785,"m":16.189},{"p":1.847,"m":16.184},{"p":1.845,"m":16.194},{"p":1.883,"m":16.189},{"p":1.901,"m":16.187},{"p":1.593,"m":16.198},{"p":1.603,"m":16.198},{"p":1.821,"m":16.198},{"p":1.907,"m":16.2},{"p":1.541,"m":16.211},{"p":1.549,"m":16.225},{"p":1.581,"m":16.217},{"p":1.638,"m":16.212},{"p":1.632,"m":16.222},{"p":1.646,"m":16.22},{"p":1.839,"m":16.216},{"p":1.871,"m":16.212},{"p":1.877,"m":16.215},{"p":1.859,"m":16.22},{"p":1.617,"m":16.235},{"p":1.883,"m":16.233},{"p":1.797,"m":16.244},{"p":1.831,"m":16.237},{"p":1.833,"m":16.249},{"p":1.583,"m":16.25},{"p":1.591,"m":16.252},{"p":1.563,"m":16.261},{"p":1.558,"m":16.276},{"p":1.57,"m":16.288},{"p":1.569,"m":16.305},{"p":1.587,"m":16.258},{"p":1.619,"m":16.26},{"p":1.519,"m":16.319},{"p":1.529,"m":16.325},{"p":1.545,"m":16.315},{"p":1.531,"m":16.343},{"p":1.538,"m":16.346},{"p":1.553,"m":16.341},{"p":1.595,"m":16.32},{"p":1.573,"m":16.349},{"p":1.558,"m":16.402},{"p":1.577,"m":16.405},{"p":1.517,"m":16.416},{"p":1.525,"m":16.421},{"p":1.545,"m":16.455},{"p":1.857,"m":16.269},{"p":1.869,"m":16.286},{"p":1.851,"m":16.308},{"p":1.897,"m":16.269},{"p":1.919,"m":16.26},{"p":1.931,"m":16.261},{"p":1.933,"m":16.279},{"p":1.907,"m":16.293},{"p":1.895,"m":16.325},{"p":1.921,"m":16.322},{"p":1.956,"m":16.334},{"p":1.968,"m":16.38},{"p":1.944,"m":16.395},{"p":1.98,"m":16.395},{"p":1.958,"m":16.412},{"p":1.919,"m":16.426},{"p":1.934,"m":16.431},{"p":1.994,"m":16.446},{"p":1.98,"m":16.458},{"p":1.97,"m":16.47},{"p":1.946,"m":16.463},{"p":1.944,"m":16.482},{"p":1.992,"m":16.482},{"p":1.968,"m":16.562},{"p":1.982,"m":16.555},{"p":1.992,"m":16.586}]},
"encoding":{"x":{"field":"p","type":"quantitative","title":"Phase","scale":{"domain":[-0.003,2.0],"nice":false,"zero":false},"axis":{"values":[0.5,1.0,1.5],"format":".1f","domain":false,"ticks":false,"grid":true,"gridColor":"#c0c0c0","gridDash":[3,3],"gridOpacity":1,"labelFont":"Liberation Sans","labelFontSize":11,"labelColor":"#222222","labelPadding":6,"titleFont":"Liberation Mono","titleFontSize":11.5,"titleFontWeight":"normal","titlePadding":2,"titleColor":"#222222"}},"y":{"field":"m","type":"quantitative","title":"Mag","scale":{"domain":[15.5,16.995],"nice":false,"zero":false,"reverse":true},"axis":{"values":[16.0,16.5],"format":"+.1f","domain":false,"ticks":false,"grid":true,"gridColor":"#c0c0c0","gridDash":[3,3],"gridOpacity":1,"labelFont":"Liberation Sans","labelFontSize":11,"labelColor":"#222222","labelPadding":12,"titleFont":"Liberation Sans","titleFontSize":10,"titleFontWeight":"normal","titlePadding":5,"titleColor":"#333333"}}},"layer":[{"data":{"name":"g"},"mark":{"type":"circle","size":36,"color":"#c0c0c0","opacity":1,"clip":true}},{"data":{"name":"k"},"mark":{"type":"circle","size":42,"color":"#000000","opacity":1,"clip":true}},{"data":{"name":"keys"},"mark":{"type":"circle","size":36,"opacity":1},"encoding":{"color":{"field":"s","type":"nominal","legend":null,"scale":{"domain":["Liceo Versari, UniSi","ASAS-SN"],"range":["#000000","#c0c0c0"]}}}},{"data":{"name":"noteL"},"mark":{"type":"text","font":"Lato","fontSize":12.4,"color":"#1a1a1a","align":"left"},"encoding":{"text":{"field":"t"}}},{"data":{"name":"noteR"},"mark":{"type":"text","font":"Lato","fontSize":13.8,"color":"#1a1a1a","align":"right"},"encoding":{"text":{"field":"t"}}}]}
